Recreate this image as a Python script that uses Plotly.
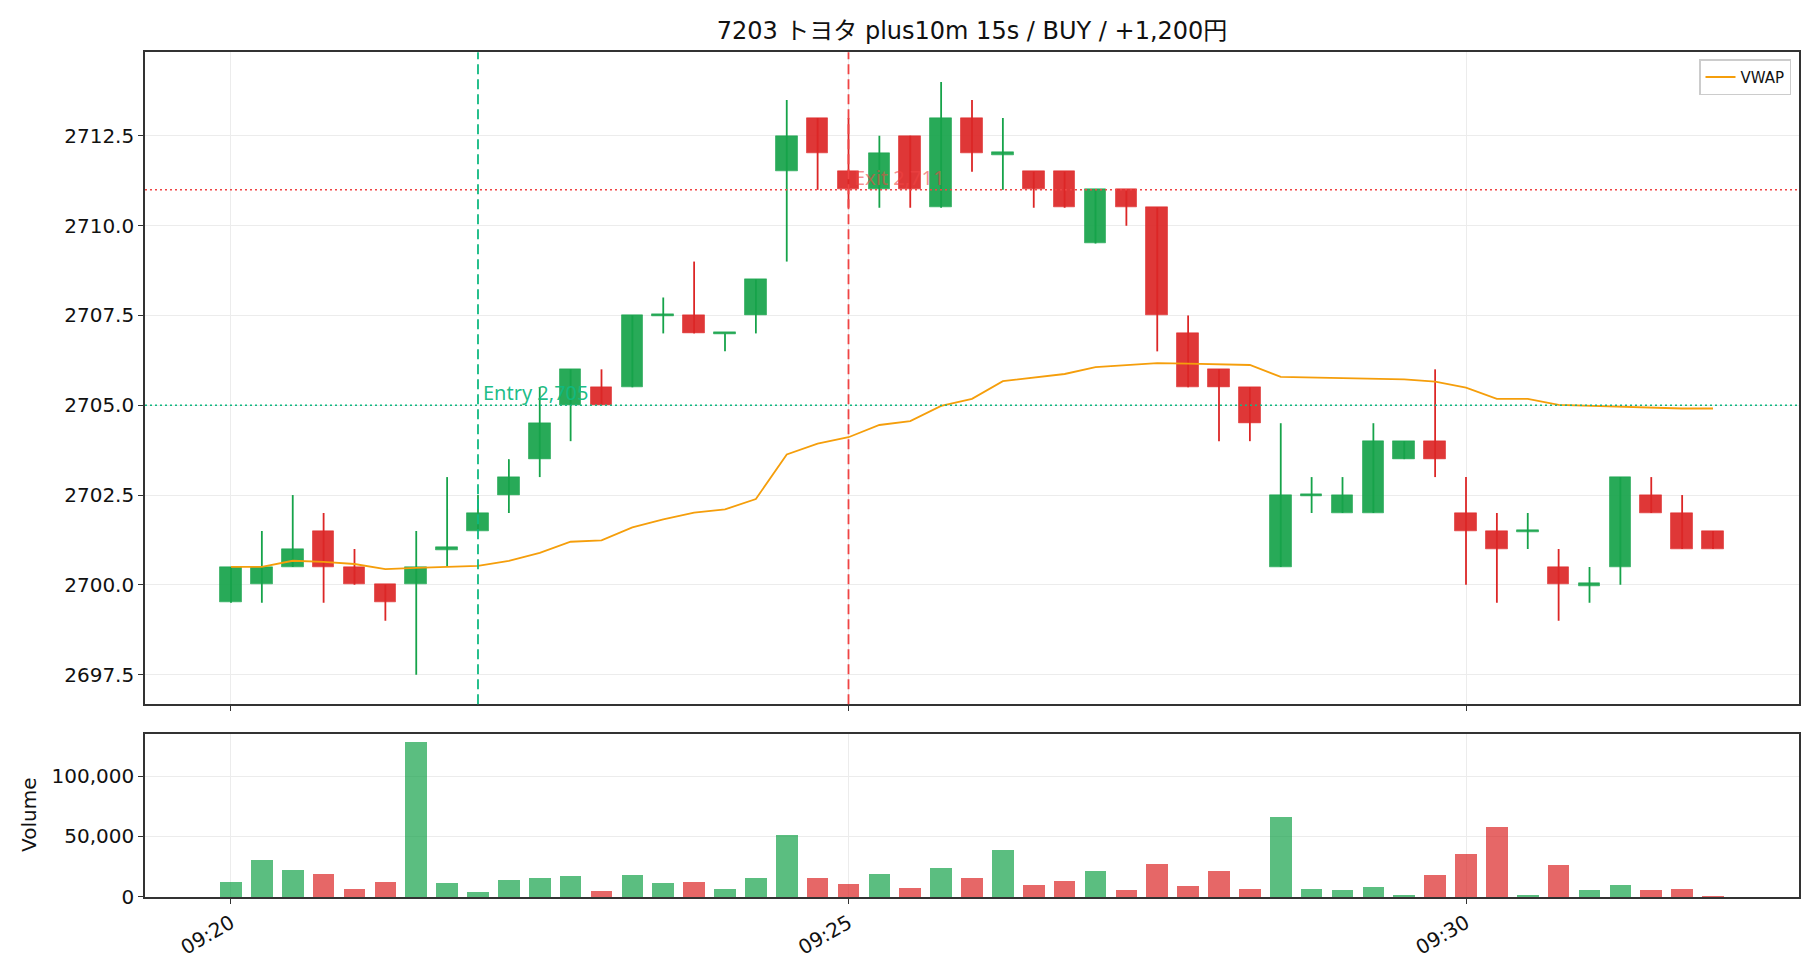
import plotly.graph_objects as go
import pandas as pd

# ---------------- data ----------------
times = pd.date_range("2024-01-01 09:20:00", periods=49, freq="15s")

opens = [2699.5, 2700.0, 2700.5, 2701.5, 2700.5, 2700.0, 2700.0, 2701.0, 2701.5, 2702.5,
         2703.5, 2705.0, 2705.5, 2705.5, 2707.5, 2707.5, 2707.0, 2707.5, 2711.5, 2713.0,
         2711.5, 2711.0, 2712.5, 2710.5, 2713.0, 2712.0, 2711.5, 2711.5, 2709.5, 2711.0,
         2710.5, 2707.0, 2706.0, 2705.5, 2700.5, 2702.5, 2702.0, 2702.0, 2703.5, 2704.0,
         2702.0, 2701.5, 2701.5, 2700.5, 2700.0, 2700.5, 2702.5, 2702.0, 2701.5]
highs = [2700.5, 2701.5, 2702.5, 2702.0, 2701.0, 2700.0, 2701.5, 2703.0, 2702.5, 2703.5,
         2705.5, 2706.0, 2706.0, 2707.5, 2708.0, 2709.0, 2707.0, 2708.5, 2713.5, 2713.0,
         2713.0, 2712.5, 2712.5, 2714.0, 2713.5, 2713.0, 2711.5, 2711.5, 2711.0, 2711.0,
         2710.5, 2707.5, 2706.0, 2705.5, 2704.5, 2703.0, 2703.0, 2704.5, 2704.0, 2706.0,
         2703.0, 2702.0, 2702.0, 2701.0, 2700.5, 2703.0, 2703.0, 2702.5, 2701.5]
lows = [2699.5, 2699.5, 2700.5, 2699.5, 2700.0, 2699.0, 2697.5, 2700.5, 2701.5, 2702.0,
        2703.0, 2704.0, 2705.0, 2705.5, 2707.0, 2707.0, 2706.5, 2707.0, 2709.0, 2711.0,
        2710.5, 2710.5, 2710.5, 2710.5, 2711.5, 2711.0, 2710.5, 2710.5, 2709.5, 2710.0,
        2706.5, 2705.5, 2704.0, 2704.0, 2700.5, 2702.0, 2702.0, 2702.0, 2703.5, 2703.0,
        2700.0, 2699.5, 2701.0, 2699.0, 2699.5, 2700.0, 2702.0, 2701.0, 2701.0]
closes = [2700.5, 2700.5, 2701.0, 2700.5, 2700.0, 2699.5, 2700.5, 2701.0, 2702.0, 2703.0,
          2704.5, 2706.0, 2705.0, 2707.5, 2707.5, 2707.0, 2707.0, 2708.5, 2712.5, 2712.0,
          2711.0, 2712.0, 2711.0, 2713.0, 2712.0, 2712.0, 2711.0, 2710.5, 2711.0, 2710.5,
          2707.5, 2705.5, 2705.5, 2704.5, 2702.5, 2702.5, 2702.5, 2704.0, 2704.0, 2703.5,
          2701.5, 2701.0, 2701.5, 2700.0, 2700.0, 2703.0, 2702.0, 2701.0, 2701.0]
volumes = [12600, 30800, 22500, 19200, 6900, 12600, 128500, 11800, 4400, 14300,
           15900, 17600, 5200, 18400, 11800, 12600, 6900, 15900, 51400, 15900,
           11000, 19200, 7700, 24200, 15900, 39000, 10200, 13500, 21700, 6000,
           27500, 9300, 21700, 6900, 66200, 6900, 6000, 8500, 1900, 18400,
           35700, 58000, 1900, 26700, 6000, 10200, 6000, 6900, 500]
vwap = [2700.50, 2700.50, 2700.67, 2700.64, 2700.58, 2700.44, 2700.47, 2700.50, 2700.53, 2700.67,
        2700.89, 2701.20, 2701.24, 2701.60, 2701.82, 2702.01, 2702.10, 2702.39, 2703.63, 2703.93,
        2704.11, 2704.45, 2704.56, 2704.98, 2705.18, 2705.67, 2705.76, 2705.87, 2706.06, 2706.11,
        2706.17, 2706.16, 2706.14, 2706.12, 2705.79, 2705.77, 2705.75, 2705.73, 2705.72, 2705.66,
        2705.49, 2705.18, 2705.18, 2705.01, 2704.98, 2704.95, 2704.94, 2704.91, 2704.91]

entry_time = pd.Timestamp("2024-01-01 09:22:00")
entry_price = 2705
exit_time = pd.Timestamp("2024-01-01 09:25:00")
exit_price = 2711
title_text = "7203 トヨタ plus10m 15s / BUY / +1,200円"
xtick_vals = [pd.Timestamp("2024-01-01 09:20:00"), pd.Timestamp("2024-01-01 09:25:00"),
              pd.Timestamp("2024-01-01 09:30:00")]
price_ticks = [2697.5, 2700.0, 2702.5, 2705.0, 2707.5, 2710.0, 2712.5]
vol_ticks = [0, 50000, 100000]

# ---------------- styles ----------------
GREEN = "#16a34a"
RED = "#dc2626"
FONT = "DejaVu Sans, Noto Sans CJK JP"
W = 1820
H = 980
interval_ms = 15000
bar_w = 0.7 * interval_ms

up = [c >= o for o, c in zip(opens, closes)]
body_base, body_h = [], []
for o, c in zip(opens, closes):
    hgt = abs(c - o)
    if hgt < 0.06:
        body_base.append(min(o, c) - 0.03)
        body_h.append(0.06)
    else:
        body_base.append(min(o, c))
        body_h.append(hgt)
body_fill = ["rgba(22,163,74,0.92)" if u else "rgba(220,38,38,0.92)" for u in up]
body_edge = ["rgba(22,163,74,0.55)" if u else "rgba(220,38,38,0.55)" for u in up]
vol_col = ["rgba(22,163,74,0.7)" if u else "rgba(220,38,38,0.7)" for u in up]

# wick segments
gx, gy, rx, ry = [], [], [], []
for t, hi, lo, u in zip(times, highs, lows, up):
    if u:
        gx += [t, t, None]; gy += [lo, hi, None]
    else:
        rx += [t, t, None]; ry += [lo, hi, None]

fig = go.Figure()
fig.add_trace(go.Bar(x=times, y=body_h, base=body_base, width=bar_w,
                     marker=dict(color=body_fill, line=dict(color=body_edge, width=1)),
                     showlegend=False, xaxis="x", yaxis="y"))
fig.add_trace(go.Scatter(x=gx, y=gy, mode="lines", line=dict(color=GREEN, width=1.8),
                         showlegend=False, xaxis="x", yaxis="y", connectgaps=False))
fig.add_trace(go.Scatter(x=rx, y=ry, mode="lines", line=dict(color=RED, width=1.8),
                         showlegend=False, xaxis="x", yaxis="y", connectgaps=False))
fig.add_trace(go.Scatter(x=times, y=vwap, mode="lines", name="VWAP",
                         line=dict(color="#f59e0b", width=1.8), xaxis="x", yaxis="y"))
fig.add_trace(go.Bar(x=times, y=volumes, width=bar_w, marker=dict(color=vol_col, line=dict(width=0)),
                     showlegend=False, xaxis="x2", yaxis="y2"))

# ranges (matplotlib-like 5% margins)
lo_all, hi_all = min(lows), max(highs)
pad = (hi_all - lo_all) * 0.05
x0 = times[0] - pd.Timedelta(milliseconds=bar_w / 2)
x1 = times[-1] + pd.Timedelta(milliseconds=bar_w / 2)
xpad = (x1 - x0) * 0.05
xr = [x0 - xpad, x1 + xpad]

ax_common = dict(showline=True, linecolor="#333333", linewidth=1.6, mirror=True,
                 ticks="outside", ticklen=5, tickwidth=1.3, tickcolor="#333333",
                 showgrid=True, gridcolor="#ececec", gridwidth=1, zeroline=False,
                 tickfont=dict(family=FONT, size=20, color="#111111"))

L, R = 145 / W, 1799 / W
fig.update_layout(
    width=W, height=H,
    margin=dict(l=0, r=0, t=0, b=0),
    paper_bgcolor="white", plot_bgcolor="white",
    bargap=0, barmode="overlay",
    font=dict(family=FONT, size=20, color="#111111"),
    title=dict(text=title_text, x=(145 + 1799) / 2 / W, xanchor="center",
               y=1 - 31 / H, yanchor="middle", font=dict(family=FONT, size=24, color="#111111")),
    xaxis=dict(domain=[L, R], anchor="y", range=xr, type="date", tickvals=xtick_vals,
               showticklabels=False, **ax_common),
    yaxis=dict(domain=[1 - 713 / H, 1 - 53 / H], anchor="x", range=[lo_all - pad, hi_all + pad],
               tickvals=price_ticks, tickformat=".1f", **ax_common),
    xaxis2=dict(domain=[L, R], anchor="y2", range=xr, type="date", matches="x", tickvals=xtick_vals,
                tickformat="%H:%M", tickangle=-30, **ax_common),
    yaxis2=dict(domain=[1 - 908 / H, 1 - 743 / H], anchor="x2", range=[0, max(volumes) * 1.05],
                tickvals=vol_ticks, tickformat=",d", **ax_common),
    legend=dict(x=1791 / W, xanchor="right", y=1 - 60 / H, yanchor="top",
                bgcolor="white", bordercolor="#cccccc", borderwidth=1.5,
                font=dict(family=FONT, size=15, color="#111111"),
                itemwidth=30, tracegroupgap=0),
    showlegend=True,
)

shapes = [
    dict(type="line", xref="x", yref="y domain", x0=entry_time, x1=entry_time, y0=0, y1=1,
         line=dict(color="#10b981", width=1.8, dash="10px,5px"), layer="above"),
    dict(type="line", xref="x", yref="y domain", x0=exit_time, x1=exit_time, y0=0, y1=1,
         line=dict(color="#ef4444", width=1.8, dash="10px,5px"), layer="above"),
    dict(type="line", xref="x domain", yref="y", x0=0, x1=1, y0=entry_price, y1=entry_price,
         line=dict(color="#10b981", width=1.5, dash="2px,3px"), layer="above"),
    dict(type="line", xref="x domain", yref="y", x0=0, x1=1, y0=exit_price, y1=exit_price,
         line=dict(color="#ef4444", width=1.5, dash="2px,3px"), layer="above"),
]
fig.update_layout(shapes=shapes)

fig.add_annotation(x=entry_time, y=entry_price, xref="x", yref="y", text=f"Entry {entry_price:,}",
                   showarrow=False, xanchor="left", yanchor="bottom", xshift=3, yshift=-3,
                   font=dict(family="Noto Sans", size=20, color="rgba(16,185,129,0.95)"))
fig.add_annotation(x=exit_time, y=exit_price, xref="x", yref="y", text=f"Exit {exit_price:,}",
                   showarrow=False, xanchor="left", yanchor="bottom", xshift=3, yshift=-3,
                   font=dict(family="Noto Sans", size=20, color="rgba(239,68,68,0.6)"))
fig.add_annotation(x=29 / W, y=1 - 825 / H, xref="paper", yref="paper", text="Volume",
                   showarrow=False, textangle=-90, xanchor="center", yanchor="middle",
                   font=dict(family=FONT, size=20, color="#111111"))

fig.write_html("out.html")
